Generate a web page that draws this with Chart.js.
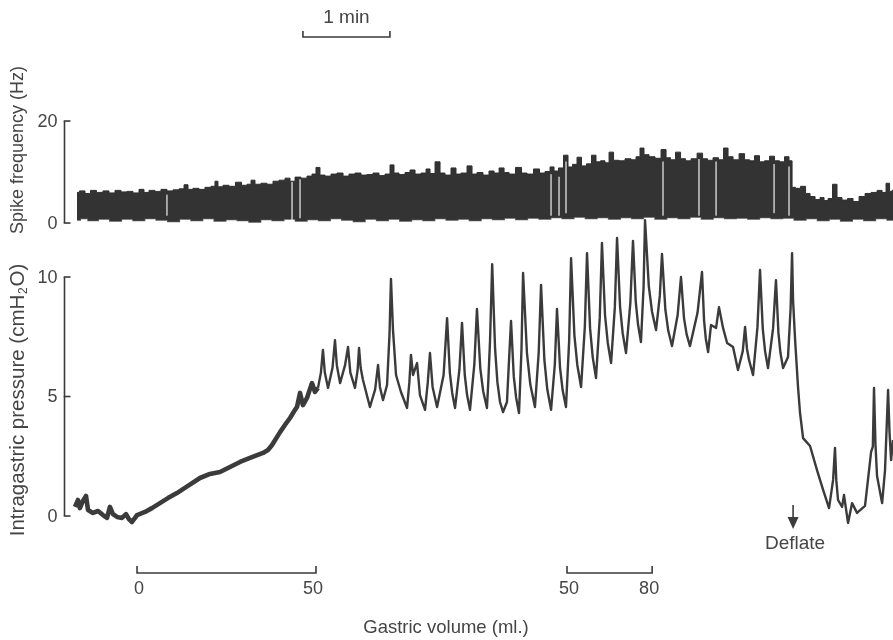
<!DOCTYPE html>
<html>
<head>
<meta charset="utf-8">
<script src="https://cdn.jsdelivr.net/npm/chart.js@4/dist/chart.umd.min.js"></script>
<style>
  html, body { margin: 0; padding: 0; background: #fff; overflow: hidden; }
  #c { display: block; }
</style>
</head>
<body>
<canvas id="c" width="893" height="640"></canvas>
<script>
// Intragastric pressure record: time from start of trace (s) and pressure (cmH2O)
const pressureTime = [
  0, 2.1, 3.4, 5.5, 7.6, 9.0, 12.4, 15.9, 19.3, 22.1,
  24.1, 26.2, 29.0, 32.4, 35.2, 37.2, 39.3, 41.4, 42.8, 48.3,
  53.1, 58.6, 64.1, 70.3, 77.9, 86.2, 93.1, 100.0, 106.9, 113.8,
  120.7, 129.7, 133.1, 135.9, 141.4, 144.8, 148.3, 151.7, 153.1, 155.2,
  157.2, 160.0, 163.4, 165.5, 167.6, 169.6, 171.0, 172.3, 174.5, 177.6,
  179.3, 180.6, 182.8, 186.2, 188.3, 189.9, 193.1, 194.9, 195.9, 197.0,
  198.6, 203.4, 207.0, 209.0, 210.3, 212.4, 215.2, 216.9, 217.9, 219.3,
  221.4, 224.8, 229.0, 230.6, 231.7, 233.1, 235.9, 237.9, 241.4, 243.3,
  244.8, 246.6, 249.7, 254.2, 256.6, 258.5, 260.1, 262.1, 265.1, 266.9,
  268.8, 270.4, 272.4, 275.4, 277.2, 279.5, 281.5, 284.1, 285.0, 286.2,
  287.7, 288.5, 289.7, 291.3, 293.1, 295.2, 297.9, 299.5, 300.7, 302.6,
  304.2, 306.2, 307.9, 309.0, 311.7, 314.0, 317.2, 319.8, 321.4, 323.7,
  325.7, 328.3, 330.9, 332.4, 334.5, 336.3, 338.6, 340.8, 342.1, 344.4,
  346.4, 349.0, 351.6, 353.1, 355.2, 357.0, 359.3, 361.9, 363.4, 365.5,
  367.4, 369.7, 372.3, 373.8, 375.9, 377.7, 380.0, 383.0, 384.8, 386.7,
  388.3, 390.3, 392.1, 393.1, 395.7, 397.9, 400.7, 403.3, 404.8, 407.1,
  409.1, 411.7, 415.6, 417.9, 420.0, 421.8, 424.1, 429.3, 432.4, 433.8,
  435.0, 436.6, 438.6, 442.1, 444.1, 446.9, 449.7, 453.8, 457.2, 460.5,
  462.1, 463.4, 464.8, 467.6, 470.6, 472.4, 474.3, 475.9, 477.9, 481.4,
  483.4, 485.1, 486.5, 488.3, 491.7, 493.5, 494.5, 495.2, 496.6, 498.6,
  500.0, 502.1, 506.9, 511.7, 515.9, 520.0, 522.8, 524.1, 525.0, 526.2,
  529.0, 530.3, 533.1, 535.9, 539.3, 544.8, 547.6, 549.0, 550.2, 551.0,
  552.0, 553.1, 556.6, 558.6, 560.7, 561.7, 562.8, 564.1
];
const pressureValue = [
  0.38, 0.67, 0.33, 0.63, 0.84, 0.25, 0.13, 0.21, 0.04, -0.08,
  0.38, 0.08, -0.04, -0.08, 0.08, -0.13, -0.25, -0.08, 0.04, 0.17,
  0.33, 0.54, 0.75, 0.96, 1.26, 1.59, 1.76, 1.84, 2.05, 2.26,
  2.43, 2.64, 2.76, 2.97, 3.51, 3.81, 4.10, 4.44, 4.56, 5.15,
  4.64, 4.94, 5.56, 5.19, 5.36, 6.0, 6.95, 6.0, 5.36, 6.2,
  7.36, 6.3, 5.56, 6.3, 7.07, 6.0, 5.36, 6.1, 7.03, 6.2,
  5.69, 4.56, 5.3, 6.32, 5.4, 4.85, 5.48, 7.6, 9.92, 7.78,
  5.90, 5.19, 4.52, 5.6, 6.74, 5.90, 6.40, 5.06, 4.44, 5.6,
  6.82, 5.4, 4.56, 5.9, 8.28, 6.0, 5.16, 4.52, 6.12, 8.08,
  5.9, 5.06, 4.44, 6.34, 8.66, 6.18, 5.22, 4.52, 5.6, 7.3,
  10.54, 9.1, 7.0, 5.6, 4.77, 4.35, 4.77, 6.74, 8.16, 5.83,
  4.96, 4.31, 6.95, 10.17, 6.8, 5.5, 4.56, 6.86, 9.67, 6.53,
  5.3, 4.44, 6.34, 8.66, 6.2, 5.26, 4.56, 7.36, 10.79, 7.56,
  6.32, 5.40, 7.92, 11.00, 7.86, 6.66, 5.77, 8.31, 11.42, 8.41,
  7.25, 6.40, 8.75, 11.63, 8.74, 7.64, 6.82, 8.93, 11.51, 8.97,
  8.0, 7.28, 9.58, 12.38, 9.62, 8.56, 7.78, 9.21, 10.96, 8.65,
  7.76, 7.11, 8.41, 10.00, 8.27, 7.6, 7.11, 8.5, 10.21, 8.2,
  7.43, 6.86, 7.99, 7.87, 8.74, 7.87, 7.24, 7.07, 6.11, 6.9,
  7.91, 7.0, 6.53, 5.90, 7.88, 10.29, 7.83, 6.89, 6.19, 7.85,
  9.87, 7.66, 6.82, 6.19, 6.65, 8.7, 11.00, 9.0, 7.36, 5.40,
  4.31, 3.26, 2.93, 1.92, 1.09, 0.33, 1.51, 2.85, 1.5, 0.67,
  0.38, 0.88, -0.29, 0.54, 0.13, 0.42, 1.92, 2.68, 2.9, 5.36,
  3.0, 1.67, 0.54, 1.92, 5.27, 3.5, 2.34, 3.18
];
// End of the slow filling ramp (s); the trace before it is drawn heavier
const rampEnd = 167.6;

// Spike frequency band: upper edge of the rate-meter trace (time s, Hz)
const spikeTopTime = [
  1.4, 4.8, 9.0, 12.4, 17.2, 21.4, 25.5, 29.7, 33.8, 37.9, 42.1, 46.2, 49.0, 53.1, 57.2, 61.4, 65.5, 69.7,
  73.8, 76.6, 79.3, 83.4, 87.6, 91.7, 95.9, 97.2, 100.0, 104.1, 108.3, 113.1, 116.6, 120.7, 122.1, 126.2,
  130.3, 134.5, 138.6, 142.8, 146.9, 149.7, 153.8, 157.9, 162.1, 164.8, 167.6, 170.3, 174.5, 178.6, 182.8,
  186.9, 191.0, 195.2, 199.3, 203.4, 207.6, 211.7, 215.9, 218.6, 221.4, 225.5, 229.7, 232.4, 236.6, 240.7,
  243.5, 246.2, 250.4, 253.1, 257.2, 261.4, 264.1, 268.3, 272.4, 275.2, 279.3, 283.4, 287.6, 290.4, 294.5,
  297.3, 301.4, 306.2, 309.7, 313.8, 318.6, 322.1, 326.2, 329.0, 331.7, 335.2, 338.6, 341.4, 344.8, 347.6,
  351.0, 354.5, 357.9, 360.7, 364.1, 366.9, 369.7, 373.1, 377.2, 381.4, 385.5, 388.3, 391.0, 393.8, 397.9,
  402.1, 406.2, 409.0, 412.4, 415.9, 419.3, 422.8, 426.9, 431.1, 434.5, 437.9, 442.1, 445.5, 449.0, 451.7,
  455.9, 460.0, 463.5, 466.9, 470.3, 473.8, 477.2, 480.7, 484.1, 487.6, 491.0, 493.8, 495.2, 498.6, 502.1,
  505.5, 508.3, 512.4, 515.2, 517.9, 520.7, 524.1, 526.9, 531.0, 534.5, 538.6, 542.8, 546.9, 551.0, 555.2,
  557.9, 560.7, 562.8, 564.1
];
const spikeTopHz = [
  6.0, 6.3, 5.8, 6.4, 6.0, 6.3, 5.9, 6.4, 6.1, 6.2, 5.9, 6.6, 6.0, 6.4, 6.2, 6.6, 6.3, 6.5,
  6.7, 7.5, 6.6, 6.8, 6.6, 7.0, 7.2, 8.2, 7.1, 7.4, 7.2, 8.0, 7.4, 7.6, 8.4, 7.6,
  7.8, 7.6, 8.2, 8.4, 8.8, 8.2, 9.0, 8.8, 9.2, 9.6, 10.9, 9.4, 9.2, 9.6, 9.8,
  9.2, 9.6, 9.8, 9.4, 9.5, 9.8, 9.3, 9.6, 11.4, 9.8, 9.5, 9.9, 10.4, 9.6, 9.8,
  10.6, 9.7, 12.0, 9.8, 9.4, 10.8, 9.6, 9.8, 11.2, 9.6, 9.9, 9.4, 10.2, 9.8, 10.8,
  9.9, 9.6, 10.9, 9.8, 9.6, 10.6, 9.8, 10.1, 11.0, 10.2, 10.8, 13.3, 11.0, 11.5, 12.9,
  11.2, 11.6, 13.3, 12.0, 12.2, 11.8, 13.9, 12.3, 12.2, 12.6, 12.4, 13.0, 14.7, 13.4, 13.0,
  12.7, 14.4, 12.8, 12.4, 13.9, 12.6, 12.2, 12.6, 13.7, 12.6, 12.3, 12.8, 12.4, 14.7, 13.0,
  12.4, 13.6, 12.4, 12.2, 13.2, 12.0, 12.2, 13.1, 12.2, 12.0, 13.0, 12.2, 7.0, 6.8, 7.2,
  5.8, 5.2, 4.6, 5.0, 4.4, 4.8, 7.6, 5.0, 4.5, 4.8, 4.2, 5.2, 5.8, 6.0, 6.4,
  6.0, 7.8, 6.2, 6.4
];
// Lower edge of the band (time s, Hz)
const spikeBaseTime = [
  1.4, 6, 12, 20, 28, 36, 44, 52, 60, 68, 76, 84, 92, 100, 108, 116, 124, 132, 140, 148, 156, 164,
  172, 180, 188, 196, 204, 212, 220, 228, 236, 244, 252, 260, 268, 276, 284, 292, 300, 308, 316, 324,
  332, 340, 348, 356, 364, 372, 380, 388, 396, 404, 412, 420, 428, 436, 444, 452, 460, 468, 476, 484,
  492, 500, 508, 516, 524, 532, 540, 548, 556, 564.1
];
const spikeBaseHz = [
  0.6, 0.9, 0.5, 0.8, 0.4, 0.8, 0.5, 0.9, 0.6, 0.3, 0.8, 0.5, 0.9, 0.4, 0.7, 0.5, 0.2, 0.7, 0.5, 0.8, 0.4, 0.7,
  0.5, 0.9, 0.6, 0.3, 0.8, 0.5, 0.8, 0.4, 0.7, 0.5, 0.9, 0.6, 0.8, 0.5, 0.9, 0.7, 1.0, 0.7, 1.0, 0.8,
  1.1, 0.9, 1.2, 0.9, 1.1, 0.8, 1.1, 0.9, 1.2, 0.8, 1.1, 0.9, 1.2, 0.8, 1.1, 0.9, 1.0, 0.8, 1.1, 0.9,
  1.0, 0.6, 0.9, 0.5, 0.8, 0.4, 0.8, 0.5, 0.9, 0.6
];
// Brief drop-outs of the rate meter (time s, low Hz, high Hz)
const dropoutTime = [63.4, 149.7, 155.2, 328.3, 333.8, 338.6, 405.5, 430.3, 442.1, 482.1, 492.4];
const dropoutLow  = [1.5, 0.5, 1.0, 1.5, 1.5, 2.0, 1.5, 1.5, 1.5, 2.0, 1.5];
const dropoutHigh = [5.5, 8.0, 8.5, 9.5, 9.0, 12.0, 12.0, 12.5, 12.0, 11.5, 11.0];

// Axis ticks
const spikeTicks = [0, 20];
const pressureTicks = [0, 5, 10];

// Gastric volume steps: start/end time (s) and volumes (ml)
const volumeStartTime = [42.8, 339.3];
const volumeEndTime = [166.2, 398.0];
const volumeFrom = ['0', '50'];
const volumeTo = ['50', '80'];

// Deflation time (s) and 1 min time-scale bar
const deflateTime = 495.2;
const scaleBarStart = 157.2;
const scaleBarLength = 60;

const INK = '#3b3b3b';
const TEXT = '#454545';
const FONT = '"Liberation Sans", Arial, Helvetica, sans-serif';

const pts = (xs, ys) => xs.map((x, i) => ({ x, y: ys[i] }));
const pressurePts = pts(pressureTime, pressureValue);
const rampPts = pressurePts.filter(p => p.x <= rampEnd);
const restPts = pressurePts.filter(p => p.x >= rampEnd);
const dropoutPts = dropoutTime.map((t, i) => ({ x: t, y: [dropoutLow[i], dropoutHigh[i]] }));

// Axis brackets, labels, scale bars and the deflate marker
const decorations = {
  id: 'decorations',
  afterDatasetsDraw(chart) {
    const ctx = chart.ctx;
    const xs = chart.scales.x, ys = chart.scales.s, yp = chart.scales.p;
    const X = v => xs.getPixelForValue(v);
    ctx.save();
    ctx.strokeStyle = INK;
    ctx.fillStyle = TEXT;
    ctx.lineWidth = 1.6;
    ctx.lineCap = 'butt';

    const ax = 64.5;
    function bracket(scale, ticks) {
      const yTop = scale.getPixelForValue(Math.max(...ticks));
      const yBot = scale.getPixelForValue(Math.min(...ticks));
      ctx.beginPath(); ctx.moveTo(ax, yTop); ctx.lineTo(ax, yBot); ctx.stroke();
      ctx.font = '18px ' + FONT;
      ctx.textAlign = 'right';
      ctx.textBaseline = 'middle';
      ticks.forEach(v => {
        const y = scale.getPixelForValue(v);
        ctx.beginPath(); ctx.moveTo(ax - 0.8, y); ctx.lineTo(ax + 6, y); ctx.stroke();
        ctx.fillText(String(v), ax - 7, y + 1);
      });
    }
    bracket(ys, spikeTicks);
    bracket(yp, pressureTicks);

    // Rotated axis titles
    ctx.textBaseline = 'middle';
    ctx.save();
    ctx.font = '18px ' + FONT;
    ctx.translate(18, 150);
    ctx.rotate(-Math.PI / 2);
    ctx.textAlign = 'center';
    ctx.fillText('Spike frequency (Hz)', 0, 0);
    ctx.restore();

    ctx.save();
    ctx.translate(18, 400);
    ctx.rotate(-Math.PI / 2);
    ctx.textAlign = 'left';
    const big = '20.5px ' + FONT, small = '12px ' + FONT;
    const partA = 'Intragastric pressure (cmH', partB = '2', partC = 'O)';
    ctx.font = big;
    const wA = ctx.measureText(partA).width, wC = ctx.measureText(partC).width;
    ctx.font = small;
    const wB = ctx.measureText(partB).width + 1.5;
    const x0 = -(wA + wB + wC) / 2;
    ctx.font = big;
    ctx.fillText(partA, x0, 0);
    ctx.font = small;
    ctx.fillText(partB, x0 + wA + 0.8, 6);
    ctx.font = big;
    ctx.fillText(partC, x0 + wA + wB, 0);
    ctx.restore();

    // 1 min time bar
    const b0 = X(scaleBarStart), b1 = X(scaleBarStart + scaleBarLength);
    ctx.beginPath();
    ctx.moveTo(b0, 31); ctx.lineTo(b0, 37); ctx.lineTo(b1, 37); ctx.lineTo(b1, 31);
    ctx.stroke();
    ctx.font = '19px ' + FONT;
    ctx.textAlign = 'center';
    ctx.textBaseline = 'middle';
    ctx.fillText('1 min', (b0 + b1) / 2, 18);

    // Gastric volume brackets
    volumeStartTime.forEach((t0, i) => {
      const v0 = X(t0), v1 = X(volumeEndTime[i]);
      ctx.beginPath();
      ctx.moveTo(v0, 566); ctx.lineTo(v0, 573); ctx.lineTo(v1, 573); ctx.lineTo(v1, 566);
      ctx.stroke();
      ctx.font = '18px ' + FONT;
      ctx.fillText(volumeFrom[i], v0 + 2, 589);
      ctx.fillText(volumeTo[i], v1 - 3, 589);
    });
    ctx.font = '18.5px ' + FONT;
    ctx.fillText('Gastric volume (ml.)', 446, 628);

    // Deflate arrow
    const dx = X(deflateTime);
    ctx.beginPath(); ctx.moveTo(dx, 505); ctx.lineTo(dx, 520); ctx.stroke();
    ctx.fillStyle = INK;
    ctx.beginPath(); ctx.moveTo(dx - 5.5, 517); ctx.lineTo(dx + 5.5, 517); ctx.lineTo(dx, 529); ctx.closePath(); ctx.fill();
    ctx.fillStyle = TEXT;
    ctx.font = '19px ' + FONT;
    ctx.fillText('Deflate', dx + 2, 544);
    ctx.restore();
  }
};

new Chart(document.getElementById('c'), {
  data: {
    datasets: [
      {
        type: 'line', yAxisID: 's', data: pts(spikeTopTime, spikeTopHz),
        stepped: 'middle', borderColor: '#303030', borderWidth: 1,
        backgroundColor: '#333333', fill: '+1', pointRadius: 0, order: 3
      },
      {
        type: 'line', yAxisID: 's', data: pts(spikeBaseTime, spikeBaseHz),
        stepped: 'middle', borderColor: '#5a5a5a', borderWidth: 1.5,
        fill: false, pointRadius: 0, order: 3
      },
      {
        type: 'bar', yAxisID: 's', data: dropoutPts,
        backgroundColor: 'rgba(255,255,255,0.6)', barThickness: 1.2, order: 2
      },
      {
        type: 'line', yAxisID: 'p', data: rampPts,
        borderColor: INK, borderWidth: 4.6, pointRadius: 0, tension: 0,
        borderJoinStyle: 'round', fill: false, order: 1
      },
      {
        type: 'line', yAxisID: 'p', data: restPts,
        borderColor: INK, borderWidth: 2.4, pointRadius: 0, tension: 0,
        borderJoinStyle: 'round', fill: false, order: 1
      }
    ]
  },
  options: {
    responsive: false,
    animation: false,
    devicePixelRatio: 1,
    layout: { padding: 0 },
    plugins: { legend: { display: false }, tooltip: { enabled: false } },
    scales: {
      x: { type: 'linear', display: false, min: -51.7, max: 564.1, offset: false },
      s: { type: 'linear', display: false, min: -81.76, max: 43.73 },
      p: { type: 'linear', display: false, min: -5.188, max: 21.59 }
    }
  },
  plugins: [decorations]
});
</script>
</body>
</html>
